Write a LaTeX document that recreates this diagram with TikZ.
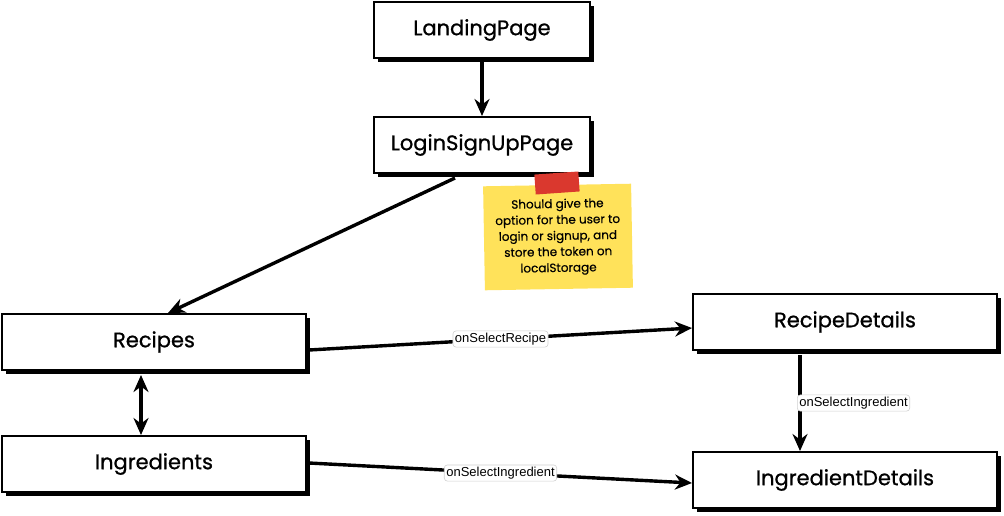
\documentclass[tikz,border=0pt]{standalone}
\usepackage{fontspec}
\newfontfamily\boxfont[FakeBold=0.9]{Poppins}
\newfontfamily\notefont[FakeBold=0.4]{Poppins}
\newfontfamily\lblfont{Liberation Sans}
\usetikzlibrary{arrows.meta,positioning,shadows}
\definecolor{notey}{RGB}{255,226,90}
\definecolor{taper}{RGB}{218,56,46}

\begin{document}
\begin{tikzpicture}[x=1pt, y=-1pt,
      page/.style={draw, line width=2pt, fill=white, minimum height=56pt,
                   font=\boxfont\fontsize{21}{24}\selectfont,
                   general shadow={fill=black, shadow xshift=4pt, shadow yshift=-4pt}},
      small/.style={page, minimum width=216pt},
      wide/.style={page, minimum width=304pt},
      lbl/.style={draw=black!18, line width=0.6pt, rounded corners=3pt, fill=white, inner sep=2pt,
                  font=\lblfont\fontsize{13}{15}\selectfont},
      link/.style={line width=3.4pt, -{Stealth[length=17pt, width=15pt]}},
      >={Stealth[length=17pt, width=15pt]}]
    \useasboundingbox (0,0) rectangle (1004,515);
    \node[small] (landing) at (482,30) {LandingPage};
    \node[small] (login) at (482,145) {LoginSignUpPage};
    \node[wide] (recipes) at (154,342) {Recipes};
    \node[wide] (ingredients) at (154,464) {Ingredients};
    \node[wide] (recipedetails) at (845,322) {RecipeDetails};
    \node[wide] (ingredientdetails) at (845,480) {IngredientDetails};
    % sticky note
    \node[fill=notey, rotate=1, minimum width=148pt, minimum height=104pt,
          align=center, font=\notefont\fontsize{12}{16}\selectfont] (note) at (558,237)
         {Should give the\\option for the user to\\login or signup, and\\store the token on\\localStorage};
    \node[fill=taper, rotate=4, minimum width=44pt, minimum height=20pt] (tape) at (557,183) {};
    \draw[link] (landing) -- (login);
    \draw[link] ([xshift=-27pt]login.south) ++(0,4) -- ([xshift=14pt]recipes.north);
    \draw[line width=3.4pt, <->] ([xshift=-13pt]recipes.south) ++(0,4) -- ([xshift=-13pt]ingredients.north);
    \draw[link] ([yshift=-8pt]recipes.east) ++(2,0) -- ([yshift=-6pt]recipedetails.west)
         node[lbl, midway] (sel1) {onSelectRecipe};
    \draw[link] ([xshift=-45pt]recipedetails.south) ++(0,4) -- ([xshift=-45pt]ingredientdetails.north)
         node[lbl, midway, anchor=west, xshift=-3pt] (sel2) {onSelectIngredient};
    \draw[link] ([yshift=1pt]ingredients.east) ++(2,0) -- ([yshift=-3pt]ingredientdetails.west)
         node[lbl, midway] (sel3) {onSelectIngredient};
\end{tikzpicture}
\end{document}
